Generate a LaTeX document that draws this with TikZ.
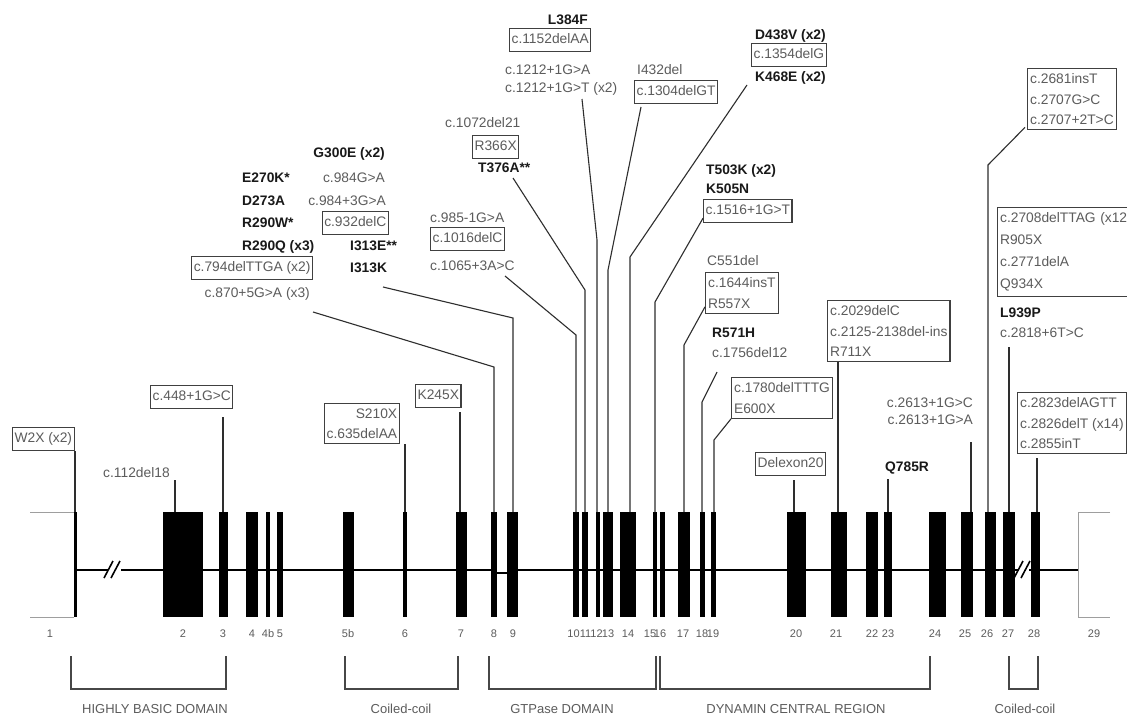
\documentclass[tikz,border=0pt]{standalone}
\usepackage{fontspec}
\setmainfont{Liberation Sans}
\usetikzlibrary{calc}
\definecolor{gtxt}{gray}{0.36}
\definecolor{btxt}{gray}{0.10}
\definecolor{frm}{gray}{0.25}
\definecolor{conc}{gray}{0.18}
\definecolor{utrc}{gray}{0.62}
\newcommand\myfs{\fontsize{13.8}{16}\selectfont}
\newcommand\myfsm{\fontsize{13.8}{20.5}\selectfont}
\newcommand\myfn{\fontsize{11}{13}\selectfont}
\newcommand\myfd{\fontsize{13}{15}\selectfont}
\tikzset{
  lbase/.style={inner sep=0pt, text height=9.9pt, text depth=0pt},
  gt/.style={lbase, text=gtxt, font=\myfs},
  bt/.style={lbase, text=btxt, font=\myfs\bfseries},
  bx/.style={draw=frm, line width=1.2pt, text=gtxt, font=\myfs, inner xsep=2pt, inner ysep=5pt, text height=10pt, text depth=3pt},
  bxm/.style={draw=frm, line width=1.2pt, text=gtxt, font=\myfsm, align=left, inner xsep=2.5pt, inner ysep=5pt},
  con/.style={draw=conc, line width=1.1pt},
  exon/.style={fill=black},
  intr/.style={draw=black, line width=2.4pt},
  utr/.style={draw=utrc, line width=0.9pt},
  slash/.style={draw=black, line width=1.6pt},
  num/.style={text=gtxt, font=\myfn, inner sep=0pt},
  dom/.style={text=gtxt, font=\myfd, inner sep=0pt},
  brk/.style={draw=black!72, line width=1.1pt},
}
\begin{document}
\begin{tikzpicture}[x=1pt,y=-1pt]
\useasboundingbox (0,0) rectangle (1127,720);
\fill[white] (0,0) rectangle (1127,720);

% ---------------- gene body ----------------
\draw[intr] (75,570) -- (491,570);
\draw[intr] (497,573) -- (507,573);
\draw[intr] (518,570) -- (1078,570);
\draw[utr] (30,512) -- (74,512);
\draw[utr] (30,617) -- (74,617);
\draw[utr] (1110,512) -- (1078,512) -- (1078,617) -- (1110,617);
\foreach \a/\b in {73.5/76.5, 163/203, 219/228, 246/258, 266/270, 277/283, 343/354, 403/406.5, 456/467, 491/497, 507/518, 573/579, 582/588, 596/600, 603/613, 620/636, 653/657, 660/665, 678/690, 700/705, 711/716, 787/806, 831/847, 866/878, 884/892, 929/946, 961/973, 985/996, 1003/1015, 1031/1040}
  \fill[exon] (\a,512) rectangle (\b,617);
% break marks
\fill[white] (108,566) rectangle (121,574);
\draw[slash] (104,578) -- (113,561);
\draw[slash] (111,578) -- (120,561);
\fill[white] (1018,566) rectangle (1029,574);
\draw[slash] (1014,578) -- (1023,561);
\draw[slash] (1021,578) -- (1030,561);

% exon numbers
\foreach \x/\t in {50/1, 183/2, 223/3, 252/4, 268/4b, 280/5, 348/5b, 405/6, 461/7, 494/8, 513/9, 573.5/10, 585.5/11, 596.5/12, 608/13, 628/14, 650/15, 660/16, 683/17, 702/18, 713/19, 796/20, 836/21, 872/22, 888/23, 935/24, 965/25, 987/26, 1008/27, 1034/28, 1094/29}
  \node[num] (n\t) at (\x,634) {\t};

% exon top coordinates (connector ends)
\coordinate (e1) at (75,512);
\coordinate (e2) at (175,512);
\coordinate (e3) at (223,512);
\coordinate (e6) at (405,512);
\coordinate (e7) at (460,512);
\coordinate (e8) at (494,512);
\coordinate (e9) at (513,512);
\coordinate (e10) at (576,512);
\coordinate (e11) at (585,512);
\coordinate (e12) at (597,512);
\coordinate (e13) at (608,512);
\coordinate (e14) at (630,512);
\coordinate (e15) at (655,512);
\coordinate (e17) at (684,512);
\coordinate (e18) at (702,512);
\coordinate (e19) at (714,512);
\coordinate (e20) at (794,512);
\coordinate (e21) at (838,512);
\coordinate (e23) at (888,512);
\coordinate (e25) at (971,512);
\coordinate (e26) at (988,512);
\coordinate (e27) at (1009,512);
\coordinate (e28) at (1037,512);

% ---------------- domains ----------------
\draw[brk] (71,656) -- (71,689) -- (226,689) -- (226,656);
\draw[brk] (345,656) -- (345,689) -- (458,689) -- (458,656);
\draw[brk] (489,656) -- (489,689) -- (656,689) -- (656,656);
\draw[brk] (660,656) -- (660,689) -- (930,689) -- (930,656);
\draw[brk] (1009,656) -- (1009,689) -- (1038,689) -- (1038,656);
\node[dom] (d1) at (155,709) {HIGHLY BASIC DOMAIN};
\node[dom] (d2) at (401,709) {Coiled-coil};
\node[dom] (d3) at (562,709) {GTPase DOMAIN};
\node[dom] (d4) at (796,709) {DYNAMIN CENTRAL REGION};
\node[dom] (d5) at (1025,709) {Coiled-coil};

% ---------------- mutation labels ----------------
% exon 1
\node[bx, anchor=north west] (w2x) at (12,427) {W2X (x2)};
\draw[con] (e1 |- w2x.south) -- (e1);
% exon 2
\node[gt, anchor=west] (c112) at (103,473) {c.112del18};
\draw[con, shorten <=2pt] (e2 |- c112.south) -- (e2);
% exon 3
\node[bx, anchor=north west] (c448) at (150,385) {c.448+1G>C};
\draw[con, shorten <=8pt] (e3 |- c448.south) -- (e3);
% exon 6
\node[bx, align=right, anchor=north west, font=\myfsm, text height=, text depth=] (s210) at (324,403) {S210X\\c.635delAA};
\draw[con] (e6 |- s210.south) -- (e6);
% exon 7
\node[bx, anchor=north west] (k245) at (415,384) {K245X};
\draw[con, shorten <=4pt] (e7 |- k245.south) -- (e7);
% exon 8
\node[bt, anchor=west] (e270) at (242,178) {E270K*};
\node[bt, anchor=west] (d273) at (242,201) {D273A};
\node[bt, anchor=west] (r290w) at (242,223) {R290W*};
\node[bt, anchor=west] (r290q) at (242,246) {R290Q (x3)};
\node[bx, anchor=east] (c794) at (313,268) {c.794delTTGA (x2)};
\node[gt, anchor=east] (c870) at (310,293) {c.870+5G>A (x3)};
\coordinate (s8) at (313,312);
\coordinate (k8) at (494,367);
\draw[con] (s8) -- (k8) -- (e8);
% exon 9
\node[bt, anchor=east] (g300) at (385,153) {G300E (x2)};
\node[gt, anchor=east] (c984a) at (385,178) {c.984G>A};
\node[gt, anchor=east] (c984b) at (386,201) {c.984+3G>A};
\node[bx, anchor=east] (c932) at (389,223) {c.932delC};
\node[bt, anchor=west] (i313e) at (350,246) {I313E**};
\node[bt, anchor=west] (i313k) at (350,268) {I313K};
\coordinate (s9) at (383,287);
\coordinate (k9) at (513,318);
\draw[con] (s9) -- (k9) -- (e9);
% exon 10
\node[gt, anchor=west] (c985) at (430,218) {c.985-1G>A};
\node[bx, anchor=north west] (c1016) at (430,227) {c.1016delC};
\node[gt, anchor=west] (c1065) at (430,266) {c.1065+3A>C};
\coordinate (s10) at (505,276);
\coordinate (k10) at (576,335);
\draw[con] (s10) -- (k10) -- (e10);
% exon 11
\node[gt, anchor=west] (c1072) at (445,123) {c.1072del21};
\node[bx, anchor=north west] (r366) at (472,135) {R366X};
\node[bt, anchor=west] (t376) at (478,168) {T376A**};
\coordinate (s11) at (513,178);
\coordinate (k11) at (585,290);
\draw[con] (s11) -- (k11) -- (e11);
% exon 12
\node[bt, anchor=east] (l384) at (588,20) {L384F};
\node[bx, anchor=north west] (c1152) at (509,28) {c.1152delAA};
\node[gt, anchor=west] (c1212a) at (505,70) {c.1212+1G>A};
\node[gt, anchor=west] (c1212b) at (505,88) {c.1212+1G>T (x2)};
\coordinate (s12) at (582,99);
\coordinate (k12) at (597,240);
\draw[con] (s12) -- (k12) -- (e12);
% exon 13
\node[gt, anchor=west] (i432) at (637,70) {I432del};
\node[bx, anchor=north west] (c1304) at (634,80) {c.1304delGT};
\coordinate (s13) at (641,107);
\coordinate (k13) at (608,270);
\draw[con] (s13) -- (k13) -- (e13);
% exon 14
\node[bt, anchor=west] (d438) at (755,35) {D438V (x2)};
\node[bx, anchor=north west] (c1354) at (751,43) {c.1354delG};
\node[bt, anchor=west] (k468) at (755,77) {K468E (x2)};
\coordinate (s14) at (747,85);
\coordinate (k14) at (630,257);
\draw[con] (s14) -- (k14) -- (e14);
% exon 15
\node[bt, anchor=west] (t503) at (706,170) {T503K (x2)};
\node[bt, anchor=west] (k505) at (706,189) {K505N};
\node[bx, anchor=north west] (c1516) at (703,199) {c.1516+1G>T};
\coordinate (k15) at (655,302);
\draw[con] ($(c1516.south west)+(0,-5)$) -- (k15) -- (e15);
% exon 17
\node[gt, anchor=west] (c551) at (707,261) {C551del};
\node[bxm, anchor=north west] (c1644) at (705,272) {c.1644insT\\R557X};
\coordinate (k17) at (684,345);
\draw[con] ($(c1644.south west)+(0,-7)$) -- (k17) -- (e17);
% exon 18
\node[bt, anchor=west] (r571) at (712,333) {R571H};
\node[gt, anchor=west] (c1756) at (712,353) {c.1756del12};
\coordinate (s18) at (717,372);
\coordinate (k18) at (702,402);
\draw[con] (s18) -- (k18) -- (e18);
% exon 19
\node[bxm, anchor=north west] (c1780) at (731,377) {c.1780delTTTG\\E600X};
\coordinate (k19) at (714,440);
\draw[con] (c1780.south west) -- (k19) -- (e19);
% exon 20
\node[bx, anchor=north west] (dex20) at (755,452) {Delexon20};
\draw[con, shorten <=4pt] (e20 |- dex20.south) -- (e20);
% exon 21
\node[bxm, anchor=north west] (c2029) at (827,300) {c.2029delC\\c.2125-2138del-ins\\R711X};
\draw[con] (e21 |- c2029.south) -- (e21);
% exon 23
\node[bt, anchor=west] (q785) at (885,467) {Q785R};
\draw[con, shorten <=7pt] (e23 |- q785.south) -- (e23);
% exon 25
\node[gt, anchor=east] (c2613a) at (973,403) {c.2613+1G>C};
\node[gt, anchor=east] (c2613b) at (973,420) {c.2613+1G>A};
\draw[con, shorten <=17pt] (e25 |- c2613b.south) -- (e25);
% exon 26
\node[bxm, anchor=north west] (c2681) at (1027,68) {c.2681insT\\c.2707G>C\\c.2707+2T>C};
\coordinate (k26) at (988,165);
\draw[con] ($(c2681.south west)+(-2,-3)$) -- (k26) -- (e26);
% exon 27
\node[bxm, anchor=north west, font=\fontsize{13.8}{22}\selectfont, text width=134pt] (c2708) at (997,207) {c.2708delTTAG (x12\\R905X\\c.2771delA\\Q934X};
\node[bt, anchor=west] (l939) at (1000,313) {L939P};
\node[gt, anchor=west] (c2818) at (1000,333) {c.2818+6T>C};
\draw[con, shorten <=9pt] (e27 |- c2818.south) -- (e27);
% exon 28
\node[bxm, anchor=north west] (c2823) at (1017,392) {c.2823delAGTT\\c.2826delT (x14)\\c.2855inT};
\draw[con, shorten <=4pt] (e28 |- c2823.south) -- (e28);
\end{tikzpicture}
\end{document}
